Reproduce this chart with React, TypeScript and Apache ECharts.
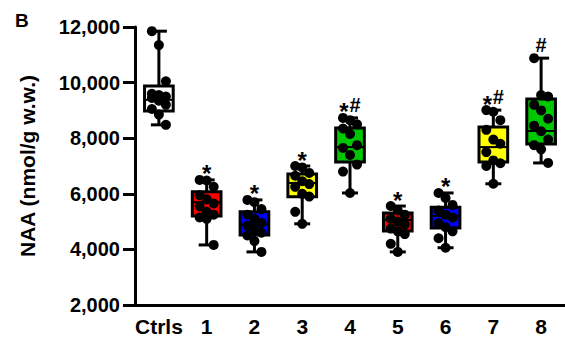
import React, { useEffect, useRef } from 'react';
import * as echarts from 'echarts';

const categories = ['Ctrls', '1', '2', '3', '4', '5', '6', '7', '8'];
const boxColors = ['#ffffff', '#ff0000', '#0000ff', '#ffff00', '#00c800', '#ff0000', '#0000ff', '#ffff00', '#00c800'];
const whiskerMin = [8480, 4160, 3910, 4920, 6030, 3910, 4060, 6360, 7110];
const q1 = [8980, 5200, 4520, 5890, 7140, 4660, 4770, 7140, 7790];
const median = [9380, 5700, 4900, 6390, 7680, 5060, 5200, 7680, 8260];
const q3 = [9880, 6070, 5350, 6710, 8370, 5310, 5520, 8400, 9410];
const whiskerMax = [11850, 6500, 5780, 7000, 8730, 5560, 6030, 9010, 10880];
const points = [
  [11850, 11350, 10050, 9600, 9550, 9500, 9450, 9350, 9200, 9050, 8850, 8480],
  [6500, 6480, 6250, 5950, 5800, 5650, 5550, 5350, 5250, 5150, 5100, 4160],
  [5780, 5700, 5450, 5250, 5100, 4950, 4850, 4700, 4600, 4500, 4300, 3910],
  [7000, 6950, 6750, 6650, 6450, 6350, 6250, 6000, 5900, 5350, 4920],
  [8730, 8650, 8500, 8350, 8150, 7750, 7650, 7400, 7050, 6800, 6030],
  [5560, 5400, 5250, 5100, 5000, 4900, 4750, 4650, 4550, 4200, 3910],
  [6030, 5850, 5600, 5400, 5250, 5150, 4950, 4800, 4650, 4400, 4060],
  [9010, 8950, 8650, 8300, 7950, 7800, 7500, 7200, 7100, 7000, 6360],
  [10880, 9550, 9500, 9200, 9000, 8700, 8450, 8250, 7950, 7750, 7600, 7110],
];
const annotations = ['', '*', '*', '*', '*#', '*', '*', '*#', '#'];
const yTicks = [2000, 4000, 6000, 8000, 10000, 12000];

const FONT = "'Liberation Sans', Arial, sans-serif";

export default function App() {
  const ref = useRef<HTMLDivElement>(null);
  useEffect(() => {
    const chart = echarts.init(ref.current!, null, { renderer: 'svg' });
    const boxData = categories.map((_, i) => [i, whiskerMin[i], q1[i], median[i], q3[i], whiskerMax[i]]);
    const pointData: number[][] = [];
    points.forEach((arr, i) => arr.forEach((v, j) => pointData.push([i, v, j])));
    const annData = categories.map((_, i) => [i, whiskerMax[i], i]);
    chart.setOption({
      animation: false,
      grid: { left: 135, top: 27, bottom: 38, right: -6, containLabel: false },
      graphic: [
        { type: 'text', left: 15, top: 11, style: { text: 'B', font: `bold 19px ${FONT}`, fill: '#000' } },
      ],
      xAxis: {
        type: 'category',
        data: categories,
        boundaryGap: true,
        axisLine: { lineStyle: { color: '#000', width: 3 } },
        axisTick: { alignWithLabel: true, length: 8, lineStyle: { color: '#000', width: 3 } },
        axisLabel: { color: '#000', fontSize: 21, fontWeight: 'bold', fontFamily: FONT, margin: 11, interval: 0 },
        splitLine: { show: false },
      },
      yAxis: {
        type: 'value',
        min: yTicks[0],
        max: yTicks[yTicks.length - 1],
        interval: 2000,
        name: 'NAA (nmol/g w.w.)',
        nameLocation: 'middle',
        nameRotate: 90,
        nameGap: 97,
        nameTextStyle: { color: '#000', fontSize: 21, fontWeight: 'bold', fontFamily: FONT },
        axisLine: { show: true, lineStyle: { color: '#000', width: 3 } },
        axisTick: { show: true, length: 12, lineStyle: { color: '#000', width: 3 } },
        axisLabel: {
          color: '#000', fontSize: 20, fontWeight: 'bold', fontFamily: FONT, margin: 15,
          formatter: (v: number) => v.toLocaleString('en-US'),
        },
        splitLine: { show: false },
      },
      series: [
        {
          type: 'custom',
          data: boxData,
          encode: { x: 0, y: [1, 2, 3, 4, 5] },
          renderItem: (params: any, api: any) => {
            const i = api.value(0);
            const pMin = api.coord([i, api.value(1)]);
            const pQ1 = api.coord([i, api.value(2)]);
            const pMed = api.coord([i, api.value(3)]);
            const pQ3 = api.coord([i, api.value(4)]);
            const pMax = api.coord([i, api.value(5)]);
            const bw = api.size([1, 0])[0] * 0.6;
            const cw = 16;
            const x = pMin[0];
            const ls = { stroke: '#000', lineWidth: 3 };
            return {
              type: 'group',
              children: [
                { type: 'line', shape: { x1: x, y1: pMax[1], x2: x, y2: pQ3[1] }, style: ls },
                { type: 'line', shape: { x1: x, y1: pQ1[1], x2: x, y2: pMin[1] }, style: ls },
                { type: 'line', shape: { x1: x - cw / 2, y1: pMax[1], x2: x + cw / 2, y2: pMax[1] }, style: ls },
                { type: 'line', shape: { x1: x - cw / 2, y1: pMin[1], x2: x + cw / 2, y2: pMin[1] }, style: ls },
                {
                  type: 'rect',
                  shape: { x: x - bw / 2, y: pQ3[1], width: bw, height: pQ1[1] - pQ3[1] },
                  style: { fill: boxColors[i], stroke: '#000', lineWidth: 3 },
                },
                { type: 'line', shape: { x1: x - bw / 2, y1: pMed[1], x2: x + bw / 2, y2: pMed[1] }, style: { stroke: '#000', lineWidth: 2 } },
              ],
            };
          },
          z: 2,
        },
        {
          type: 'custom',
          data: pointData,
          encode: { x: 0, y: 1 },
          renderItem: (params: any, api: any) => {
            const i = api.value(0);
            const j = api.value(2);
            const p = api.coord([i, api.value(1)]);
            const dx = ((j % 3) - 1) * 7;
            return { type: 'circle', shape: { cx: p[0] + dx, cy: p[1], r: 5 }, style: { fill: '#000' } };
          },
          z: 3,
        },
        {
          type: 'custom',
          data: annData,
          encode: { x: 0, y: 1 },
          renderItem: (params: any, api: any) => {
            const i = api.value(0);
            const p = api.coord([i, api.value(1)]);
            const s = annotations[i];
            const children: any[] = [];
            const two = s.length === 2;
            for (const ch of s) {
              const isStar = ch === '*';
              const dx = two ? (isStar ? -6 : 5) : 0;
              children.push({
                type: 'text',
                x: p[0] + dx,
                y: isStar ? p[1] - 6 : p[1] - 13,
                style: {
                  text: ch,
                  font: isStar ? `bold 24px ${FONT}` : `bold 20px ${FONT}`,
                  fill: '#000',
                  align: 'center',
                  verticalAlign: 'middle',
                },
              });
            }
            return { type: 'group', children };
          },
          z: 4,
        },
      ],
    });
    return () => chart.dispose();
  }, []);
  return <div ref={ref} style={{ position: 'absolute', left: 0, top: 0, width: 565, height: 343 }} />;
}
